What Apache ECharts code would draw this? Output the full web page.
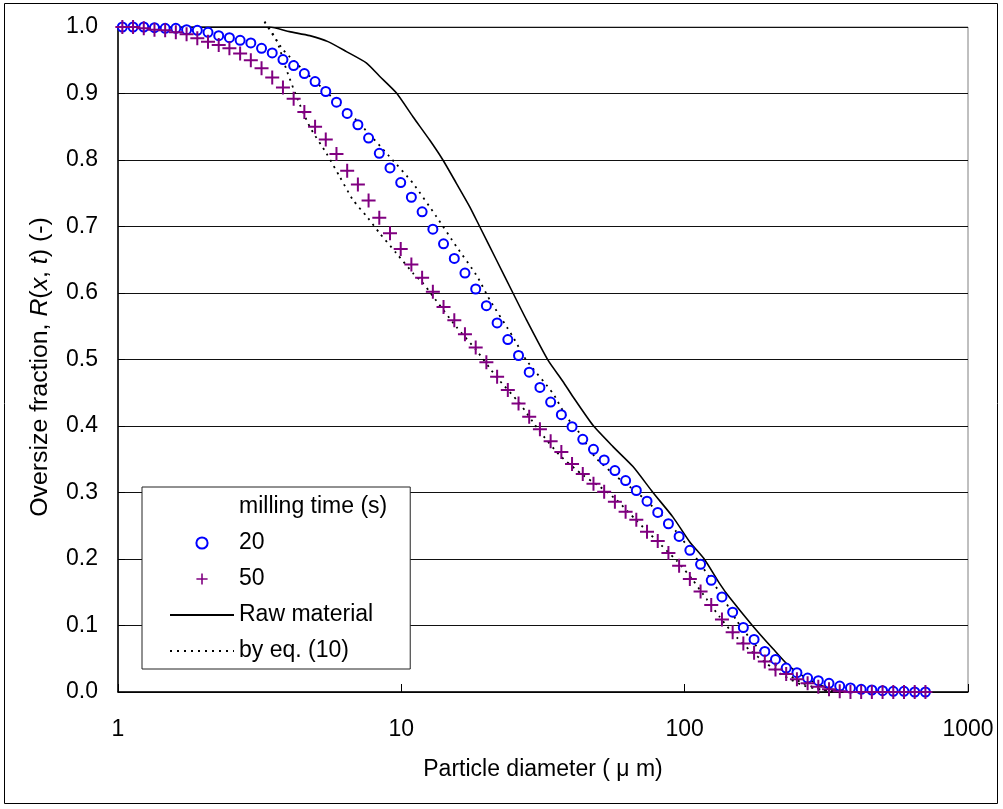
<!DOCTYPE html>
<html>
<head>
<meta charset="utf-8">
<script src="https://cdn.jsdelivr.net/npm/echarts@6/dist/echarts.min.js"></script>
<style>
html,body{margin:0;padding:0;background:#fff;}
#chart{width:1003px;height:809px;}
</style>
</head>
<body>
<div id="chart"></div>
<script>
// ---- data ----
const sizes = [1.036,1.130,1.233,1.345,1.467,1.600,1.746,1.905,2.078,2.267,2.473,2.698,2.943,3.211,3.502,3.821,4.168,4.547,4.961,5.411,5.903,6.440,7.025,7.663,8.360,9.120,9.950,10.85,11.84,12.92,14.09,15.38,16.77,18.30,19.96,21.78,23.76,25.92,28.27,30.84,33.65,36.71,40.04,43.69,47.66,51.99,56.72,61.88,67.50,73.64,80.34,87.63,95.59,104.3,113.8,124.1,135.4,147.7,161.1,175.8,191.8,209.2,228.2,249.0,271.6,296.3,323.2,352.6,384.7,419.7,457.8,499.4,544.9,594.4,648.5,707.5];
const r20 = [1.000,1.000,1.000,0.999,0.998,0.998,0.996,0.995,0.992,0.987,0.984,0.980,0.976,0.968,0.961,0.951,0.942,0.930,0.918,0.903,0.887,0.870,0.853,0.833,0.810,0.788,0.766,0.744,0.722,0.696,0.674,0.652,0.630,0.606,0.581,0.555,0.530,0.506,0.481,0.458,0.436,0.417,0.399,0.380,0.365,0.349,0.333,0.318,0.303,0.287,0.270,0.253,0.234,0.213,0.192,0.168,0.143,0.120,0.097,0.079,0.061,0.049,0.036,0.029,0.021,0.017,0.013,0.009,0.006,0.004,0.003,0.002,0.001,0.001,0.000,0.000];
const r50 = [1.000,1.000,0.998,0.996,0.995,0.992,0.989,0.983,0.978,0.973,0.968,0.960,0.950,0.938,0.924,0.909,0.892,0.872,0.850,0.831,0.809,0.784,0.763,0.739,0.713,0.690,0.666,0.643,0.623,0.602,0.579,0.559,0.538,0.518,0.496,0.474,0.454,0.434,0.414,0.395,0.377,0.361,0.343,0.328,0.313,0.301,0.286,0.271,0.259,0.241,0.227,0.209,0.190,0.170,0.151,0.131,0.109,0.090,0.073,0.059,0.046,0.034,0.027,0.019,0.013,0.008,0.004,0.001,0.000,0.000,0.000,0.000,0.000,0.000,0.000,0.000];
const rawX = [1.036,3.43,4.03,4.75,5.51,6.40,7.52,8.38,9.60,10.99,12.59,14.02,15.64,17.42,18.90,21.64,24.77,27.62,32.93,37.19,40.34,47.47,55.84,65.70,77.29,90.94,104.1,117.7,132.9,144.1,174.2,205.0,234.8,276.2,324.9,382.3,707.5];
const rawY = [1.000,1.000,0.993,0.987,0.978,0.963,0.946,0.926,0.901,0.865,0.830,0.800,0.765,0.730,0.700,0.650,0.600,0.560,0.499,0.467,0.444,0.401,0.369,0.339,0.300,0.263,0.226,0.199,0.163,0.142,0.099,0.065,0.038,0.018,0.005,0.000,0.000];
const eq20X = [3.29,3.82,4.62,5.90,6.94,9.09,10.99,13.29,15.64,18.40,20.50,24.77,27.62,34.29,38.23,42.60,48.12,57.41,67.53,80.51,93.48,110.0,134.7,152.2,174.2,199.5,228.6,261.6,307.7,362.1];
const eq20Y = [1.008,0.966,0.931,0.888,0.860,0.805,0.765,0.715,0.670,0.627,0.590,0.534,0.499,0.449,0.414,0.389,0.354,0.324,0.301,0.271,0.241,0.201,0.146,0.108,0.075,0.048,0.028,0.013,0.003,0.000];
const eq50X = [3.29,3.62,3.93,4.26,4.75,5.44,6.06,6.75,7.62,8.38,9.60,10.99,11.92,12.93,15.64,18.40,21.64,26.16,30.77,36.22,43.77,50.12,57.41,67.53,79.45,93.48,107.0,119.3,132.9,148.1,169.6,194.3,222.3,261.6,307.7,352.4];
const eq50Y = [1.008,0.981,0.936,0.896,0.850,0.810,0.775,0.740,0.713,0.690,0.660,0.630,0.615,0.595,0.549,0.514,0.474,0.434,0.392,0.356,0.326,0.309,0.289,0.258,0.228,0.198,0.168,0.140,0.113,0.088,0.063,0.043,0.025,0.010,0.003,0.000];
const xTickLabels = ['1','10','100','1000'];
const seriesNames = ['20','50','Raw material','by eq. (10)'];
const legendTitle = 'milling time (s)';
const xTitle = 'Particle diameter ( \u03bc m)';

// ---- chart ----
const FONT = '"Liberation Sans", Arial, sans-serif';
const zip = (xs, ys) => xs.map((x, i) => [x, ys[i]]);
const CROSS = 'path://M5,0L5,10M0,5L10,5';
const HIDDEN = {color: 'transparent', borderColor: 'transparent', borderWidth: 0, opacity: 0};

const chart = echarts.init(document.getElementById('chart'), null, {renderer: 'canvas'});
chart.setOption({
  animation: false,
  backgroundColor: '#fff',
  textStyle: {fontFamily: FONT},
  grid: {left: 118, right: 35, top: 27, bottom: 117, show: true, borderColor: '#808080', borderWidth: 1, backgroundColor: 'transparent', outerBoundsMode: 'none', containLabel: false},
  xAxis: {
    type: 'log', logBase: 10, min: 1, max: 1000,
    axisLine: {show: true, onZero: false, lineStyle: {color: '#000', width: 1.5}},
    axisTick: {show: true, inside: true, length: 8, lineStyle: {color: '#000', width: 1}},
    minorTick: {show: false},
    splitLine: {show: false},
    axisLabel: {fontSize: 23, color: '#000', fontFamily: FONT, margin: 26,
      formatter: v => { const s = String(Math.round(v)); return xTickLabels.indexOf(s) >= 0 ? s : ''; }}
  },
  yAxis: {
    type: 'value', min: 0, max: 1, interval: 0.1,
    axisLine: {show: true, lineStyle: {color: '#000', width: 1.5}},
    axisTick: {show: true, inside: true, length: 7, lineStyle: {color: '#000'}},
    splitLine: {show: true, lineStyle: {color: '#111', width: 1}},
    axisLabel: {fontSize: 23, color: '#000', fontFamily: FONT, margin: 20, formatter: v => v.toFixed(1)}
  },
  legend: {
    orient: 'vertical', left: 142, top: 487,
    itemWidth: 64, itemHeight: 14, itemGap: 10,
    padding: [7, 23, 5, 27],
    backgroundColor: '#fff', borderColor: '#222', borderWidth: 1, borderRadius: 0,
    selectedMode: false,
    textStyle: {fontSize: 23, color: '#000', fontFamily: FONT, lineHeight: 26},
    data: [
      {name: legendTitle, icon: 'none'},
      {name: seriesNames[0]},
      {name: seriesNames[1], itemStyle: {color: 'transparent', borderColor: '#800080', borderWidth: 1.6}},
      {name: seriesNames[2], itemStyle: HIDDEN},
      {name: seriesNames[3], itemStyle: HIDDEN}
    ]
  },
  graphic: [
    {type: 'rect', silent: true, z: -1, shape: {x: 4.5, y: 3.5, width: 993, height: 800}, style: {fill: 'none', stroke: '#000', lineWidth: 1}},
    {type: 'text', silent: true, x: 41, y: 367, rotation: Math.PI / 2, scaleX: 1.08,
      style: {text: 'Oversize fraction, {i|R}({i|x}, {i|t}) (-)', font: '23px ' + FONT, fill: '#000', align: 'center', verticalAlign: 'middle',
        rich: {i: {fontStyle: 'italic', fontSize: 23, fontFamily: FONT, fill: '#000'}}}},
    {type: 'text', silent: true, x: 543, y: 770,
      style: {text: xTitle, font: '23px ' + FONT, fill: '#000', align: 'center', verticalAlign: 'middle'}}
  ],
  series: [
    {name: legendTitle, type: 'line', data: [], symbol: 'none', lineStyle: {opacity: 0}},
    {name: seriesNames[2], type: 'line', data: zip(rawX, rawY), symbol: 'none', smooth: 0.2,
      lineStyle: {color: '#000', width: 1.6}, itemStyle: {color: '#000'}, z: 2},
    {name: seriesNames[3], type: 'line', data: zip(eq20X, eq20Y), symbol: 'none', clip: false, smooth: 0.2,
      lineStyle: {color: '#000', width: 1.8, type: [2, 5]}, itemStyle: {color: '#000'}, z: 2},
    {name: seriesNames[3], type: 'line', data: zip(eq50X, eq50Y), symbol: 'none', clip: false, smooth: 0.2,
      lineStyle: {color: '#000', width: 1.8, type: [2, 5]}, itemStyle: {color: '#000'}, z: 2},
    {name: seriesNames[0], type: 'line', data: zip(sizes, r20), symbol: 'emptyCircle', symbolSize: 9, clip: false,
      lineStyle: {opacity: 0, width: 0}, itemStyle: {color: '#0000ff', borderColor: '#0000ff', borderWidth: 1.6}, z: 3},
    {name: seriesNames[1], type: 'line', data: zip(sizes, r50), symbol: CROSS, symbolSize: 14, clip: false,
      lineStyle: {opacity: 0, width: 0}, itemStyle: {color: 'transparent', borderColor: '#800080', borderWidth: 2}, z: 4}
  ]
});
</script>
</body>
</html>
